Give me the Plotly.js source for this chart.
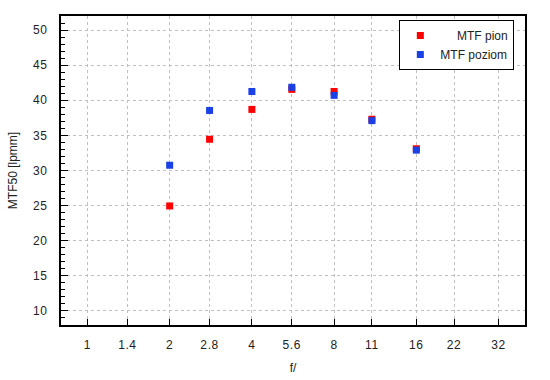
<!DOCTYPE html>
<html>
<head>
<meta charset="utf-8">
<script src="https://cdn.plot.ly/plotly-3.0.1.min.js"></script>
<style>
  html, body { margin: 0; padding: 0; background: #fff; }
  #chart { width: 550px; height: 380px; }
  #chart .xtick text, #chart .ytick text { letter-spacing: 0.6px; }
</style>
</head>
<body>
<div id="chart"></div>
<script>
// f-stop tick positions and labels
var fStops = [1, 1.4, 2, 2.8, 4, 5.6, 8, 11, 16, 22, 32];
var fLabels = ["1", "1.4", "2", "2.8", "4", "5.6", "8", "11", "16", "22", "32"];

// measured apertures
var apertures = [2, 2.8, 4, 5.6, 8, 11, 16];

// MTF50 values [lpmm]
var mtfPion   = [24.95, 34.45, 38.7, 41.55, 41.25, 37.3, 33.1];
var mtfPoziom = [30.75, 38.55, 41.25, 41.85, 40.7, 37.1, 32.9];

// series names (legend labels, right-aligned look)
var seriesNames = ["\u00a0\u00a0\u00a0\u00a0\u00a0MTF pion", "MTF poziom"];
var seriesColors = ["#ff0000", "#1a40e6"];

var font = {family: "Arial, 'Liberation Sans', sans-serif", size: 12, color: "#222"};

var traces = [
  {x: apertures, y: mtfPion, name: seriesNames[0], type: "scatter", mode: "markers",
   marker: {symbol: "square", size: 7, color: seriesColors[0], line: {width: 0}}},
  {x: apertures, y: mtfPoziom, name: seriesNames[1], type: "scatter", mode: "markers",
   marker: {symbol: "square", size: 7, color: seriesColors[1], line: {width: 0}}}
];

var layout = {
  width: 550, height: 380,
  margin: {l: 61, r: 25, t: 16, b: 55},
  paper_bgcolor: "#fff", plot_bgcolor: "#fff",
  font: font,
  showlegend: true,
  legend: {
    x: 0.977, y: 0.987, xanchor: "right", yanchor: "top",
    bgcolor: "#fff", bordercolor: "#000", borderwidth: 1,
    font: font, itemwidth: 30, tracegroupgap: 0
  },
  xaxis: {
    type: "log",
    range: [Math.log10(0.8), Math.log10(40)],
    tickmode: "array", tickvals: fStops, ticktext: fLabels,
    ticks: "inside", ticklen: 6, tickwidth: 1, tickcolor: "#000",
    ticklabelstandoff: 8,
    showgrid: true, gridcolor: "#c0c0c0", griddash: "dot", gridwidth: 1,
    showline: true, linecolor: "#000", linewidth: 2, mirror: true,
    zeroline: false,
    title: {text: "f/", font: font, standoff: 12}
  },
  yaxis: {
    range: [8, 52],
    tick0: 10, dtick: 5,
    ticks: "inside", ticklen: 7, tickwidth: 1, tickcolor: "#000",
    ticklabelstandoff: 9,
    minor: {dtick: 1, ticks: "inside", ticklen: 4, tickcolor: "#000", showgrid: false},
    showgrid: true, gridcolor: "#c0c0c0", griddash: "dot", gridwidth: 1,
    showline: true, linecolor: "#000", linewidth: 2, mirror: true,
    zeroline: false,
    title: {text: "MTF50 [lpmm]", font: font, standoff: 14}
  }
};

Plotly.newPlot("chart", traces, layout, {displayModeBar: false, staticPlot: true});
</script>
</body>
</html>
